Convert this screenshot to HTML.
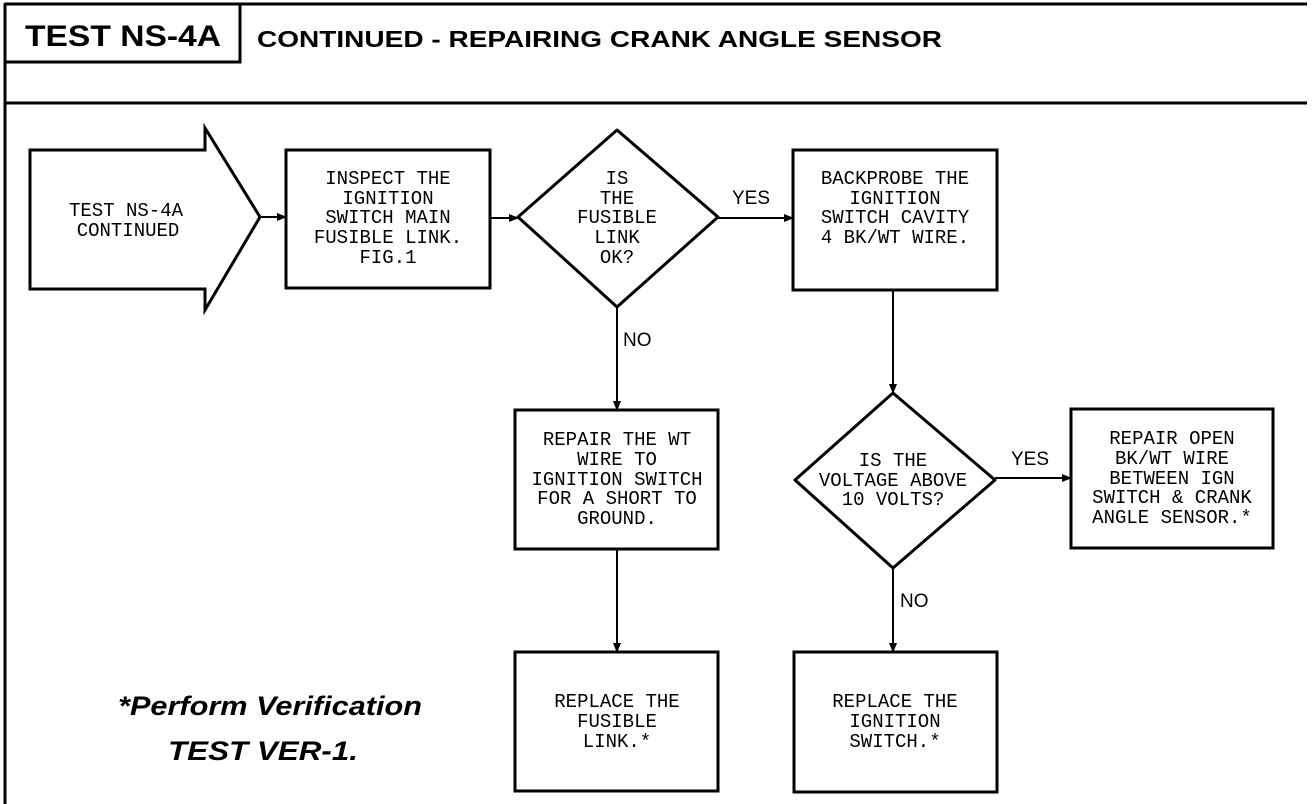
<!DOCTYPE html>
<html><head><meta charset="utf-8"><style>
html,body{margin:0;padding:0;background:#fff;}
svg{display:block;}
.t{font-family:"Liberation Mono",monospace;font-size:19px;fill:#000;text-anchor:middle;}
.l{font-family:"Liberation Sans",sans-serif;font-size:19px;fill:#000;}
</style></head><body>
<svg width="1312" height="804" viewBox="0 0 1312 804" xmlns="http://www.w3.org/2000/svg">
<defs><marker id="a" markerWidth="10" markerHeight="10" refX="9" refY="5" orient="auto" markerUnits="userSpaceOnUse"><path d="M0,1 L10,5 L0,9 Z" fill="#000"/></marker></defs>
<g stroke="#000" fill="none" stroke-width="3">
<line x1="5" y1="4" x2="1307" y2="4"/>
<line x1="5" y1="3" x2="5" y2="804"/>
<line x1="5" y1="103" x2="1307" y2="103"/>
<polyline points="5,62 240,62 240,4"/>
<polygon points="30,150 205,150 205,128 260,217 205,310 205,289 30,289"/>
<rect x="286" y="150" width="204" height="138"/>
<polygon points="617,130 718,217 617,307 518,217" stroke-linejoin="round"/>
<rect x="793" y="150" width="204" height="140"/>
<polygon points="893,393 995,480 893,568 795,480" stroke-linejoin="round"/>
<rect x="1071" y="409" width="202" height="139"/>
<rect x="515" y="410" width="203" height="139"/>
<rect x="515" y="652" width="203" height="139"/>
<rect x="794" y="652" width="203" height="140"/>
</g>
<g stroke="#000" stroke-width="2" fill="none">
<line x1="260" y1="217" x2="286" y2="217" marker-end="url(#a)"/>
<line x1="490" y1="218" x2="518" y2="218" marker-end="url(#a)"/>
<line x1="718" y1="218" x2="793" y2="218" marker-end="url(#a)"/>
<line x1="893" y1="290" x2="893" y2="393" marker-end="url(#a)"/>
<line x1="995" y1="478" x2="1071" y2="478" marker-end="url(#a)"/>
<line x1="617" y1="307" x2="617" y2="410" marker-end="url(#a)"/>
<line x1="617" y1="549" x2="617" y2="652" marker-end="url(#a)"/>
<line x1="893" y1="568" x2="893" y2="652" marker-end="url(#a)"/>
</g>
<text x="25" y="46" font-family="Liberation Sans" font-weight="bold" font-size="30" textLength="196" lengthAdjust="spacingAndGlyphs">TEST NS-4A</text>
<text x="257" y="47" font-family="Liberation Sans" font-weight="bold" font-size="23" textLength="685" lengthAdjust="spacingAndGlyphs">CONTINUED - REPAIRING CRANK ANGLE SENSOR</text>
<g class="t">
<text x="126" y="216">TEST NS-4A</text><text x="128" y="236">CONTINUED</text>
<text x="388" y="184">INSPECT THE</text><text x="388" y="204">IGNITION</text><text x="388" y="223">SWITCH MAIN</text><text x="388" y="243">FUSIBLE LINK.</text><text x="388" y="263">FIG.1</text>
<text x="617" y="184">IS</text><text x="617" y="204">THE</text><text x="617" y="223">FUSIBLE</text><text x="617" y="243">LINK</text><text x="617" y="263">OK?</text>
<text x="895" y="184">BACKPROBE THE</text><text x="895" y="204">IGNITION</text><text x="895" y="223">SWITCH CAVITY</text><text x="895" y="243">4 BK/WT WIRE.</text>
<text x="617" y="445">REPAIR THE WT</text><text x="617" y="465">WIRE TO</text><text x="617" y="485">IGNITION SWITCH</text><text x="617" y="504">FOR A SHORT TO</text><text x="617" y="524">GROUND.</text>
<text x="893" y="466">IS THE</text><text x="893" y="486">VOLTAGE ABOVE</text><text x="893" y="505">10 VOLTS?</text>
<text x="1172" y="444">REPAIR OPEN</text><text x="1172" y="464">BK/WT WIRE</text><text x="1172" y="484">BETWEEN IGN</text><text x="1172" y="503">SWITCH &amp; CRANK</text><text x="1172" y="523">ANGLE SENSOR.*</text>
<text x="617" y="707">REPLACE THE</text><text x="617" y="727">FUSIBLE</text><text x="617" y="747">LINK.*</text>
<text x="895" y="707">REPLACE THE</text><text x="895" y="727">IGNITION</text><text x="895" y="747">SWITCH.*</text>
</g>
<text class="l" x="732" y="204">YES</text>
<text class="l" x="1011" y="465">YES</text>
<text class="l" x="623" y="346">NO</text>
<text class="l" x="900" y="607">NO</text>
<text x="270" y="715" text-anchor="middle" font-family="Liberation Sans" font-weight="bold" font-style="italic" font-size="27" textLength="304" lengthAdjust="spacingAndGlyphs">*Perform Verification</text>
<text x="263" y="760" text-anchor="middle" font-family="Liberation Sans" font-weight="bold" font-style="italic" font-size="27" textLength="190" lengthAdjust="spacingAndGlyphs">TEST VER-1.</text>
</svg>
</body></html>
